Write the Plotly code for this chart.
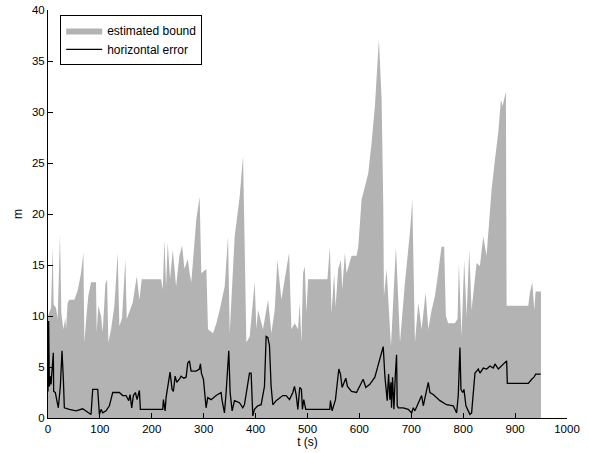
import plotly.graph_objects as go

# estimated bound (t in s, m)
bound_t = [0, 5.8, 9.0, 10.9, 15.4, 18.6, 23.1, 25.7, 29.6, 33.4, 34.7, 37.9, 41.1, 50.8, 57.2, 63.6,
           68.1, 70.1, 74.5, 77.8, 82.9, 92.5, 93.8, 97.0, 102.2, 105.4, 110.5, 113.8, 116.3, 121.5,
           127.9, 134.3, 137.5, 142.7, 149.1, 151.7, 163.2, 171.0, 176.1, 180.6, 217.9, 221.1, 224.3,
           227.5, 230.7, 235.2, 240.4, 246.8, 253.2, 258.4, 262.9, 269.3, 272.9, 276.1, 285.8, 292.2,
           295.4, 305.1, 308.3, 318.0, 324.4, 330.8, 340.4, 346.9, 350.1, 359.7, 369.3, 375.8, 379.0,
           382.2, 388.6, 398.3, 401.5, 404.7, 414.3, 424.0, 430.4, 436.8, 442.0, 449.7, 456.1, 464.5,
           469.0, 475.4, 481.8, 485.0, 488.3, 491.5, 494.7, 497.9, 501.1, 538.4, 543.1, 546.3, 551.4,
           554.1, 559.2, 564.4, 566.9, 572.1, 575.3, 584.9, 594.6, 597.8, 604.2, 610.6, 617.1, 623.5,
           629.9, 637.6, 642.8, 646.0, 647.3, 652.4, 655.6, 660.8, 665.3, 670.4, 674.9, 678.2, 687.8,
           697.4, 701.9, 707.1, 713.5, 719.9, 727.6, 732.8, 739.2, 745.4, 751.8, 758.2, 763.3, 766.6,
           771.1, 783.9, 789.1, 791.7, 796.8, 801.9, 806.5, 811.7, 816.1, 825.8, 832.2, 838.6, 845.0,
           854.7, 861.1, 867.5, 872.7, 875.9, 882.3, 883.6, 925.4, 928.6, 933.1, 937.0, 939.5, 949.8]
bound_m = [10.0, 10.8, 16.7, 11.1, 10.8, 9.7, 18.0, 10.3, 8.7, 9.8, 8.7, 11.3, 11.6, 11.6, 12.5, 14.2,
           16.2, 7.4, 10.3, 12.0, 13.3, 13.3, 8.4, 11.0, 10.0, 8.4, 13.1, 13.6, 7.4, 8.7,
           11.0, 16.2, 9.0, 9.8, 15.6, 9.7, 11.3, 13.9, 11.6, 13.6, 13.6, 12.6, 17.5,
           12.9, 17.2, 13.6, 16.5, 12.9, 15.9, 16.9, 14.6, 15.6, 14.2, 13.3, 19.5, 21.7,
           14.2, 14.6, 8.7, 8.3, 9.3, 10.6, 12.9, 17.8, 8.3, 17.8, 21.7, 25.7, 16.8,
           7.4, 8.0, 13.3, 8.7, 10.6, 8.7, 11.6, 8.3, 10.6, 15.5, 11.6, 13.6, 16.2,
           8.7, 9.3, 8.7, 11.3, 7.4, 14.2, 14.9, 10.3, 13.6, 13.6, 16.8, 10.3, 14.2,
           10.9, 14.6, 15.5, 12.6, 16.2, 14.2, 15.9, 15.9, 16.8, 21.4, 22.7, 24.0, 27.0,
           30.6, 37.1, 31.2, 20.8, 11.9, 14.6, 11.6, 7.0, 11.6, 16.8, 11.6, 7.4, 13.3,
           18.2, 21.4, 7.4, 11.3, 8.7, 12.3, 8.7, 10.6, 11.9, 14.2, 16.8, 16.8, 10.0,
           9.3, 9.3, 9.7, 15.2, 8.0, 15.5, 10.0, 16.5, 10.6, 15.2, 14.9, 17.8, 15.9,
           22.4, 25.3, 28.0, 31.2, 30.6, 32.0, 11.0, 11.0, 12.3, 13.3, 10.6, 12.4, 12.4]

# horizontal error
err_t = [0, 1.3, 2.6, 4.5, 5.8, 10.3, 10.9, 14.1, 16.7, 19.9, 23.8, 27.0, 29.6, 31.5, 41.1, 54.0,
         66.8, 73.3, 79.7, 82.9, 86.1, 95.8, 99.0, 102.2, 105.4, 111.8, 118.3, 124.7, 137.5, 144.0,
         150.4, 155.5, 158.1, 161.3, 164.5, 168.4, 171.6, 176.1, 178.0, 221.1, 222.4, 225.6, 227.5,
         230.7, 235.2, 239.1, 241.6, 244.9, 248.1, 253.2, 256.4, 261.6, 266.1, 269.3, 272.5, 275.7,
         285.3, 291.8, 293.7, 295.6, 299.5, 304.6, 307.8, 314.3, 323.9, 333.5, 335.5, 340.0, 343.2,
         348.3, 350.9, 354.8, 359.3, 368.9, 375.3, 378.5, 381.7, 385.0, 388.2, 391.4, 394.6, 397.8,
         404.2, 410.7, 417.1, 420.3, 423.5, 426.7, 429.9, 433.2, 439.6, 452.4, 458.9, 465.3, 471.7,
         474.9, 478.1, 481.4, 485.1, 488.3, 490.2, 492.8, 496.6, 543.0, 544.2, 547.4, 553.9, 560.3,
         563.5, 566.7, 570.6, 573.8, 577.0, 584.8, 594.4, 600.8, 607.2, 612.4, 620.1, 629.8, 636.2,
         642.6, 645.9, 649.1, 653.6, 656.2, 658.7, 660.7, 661.9, 663.9, 666.5, 669.1, 671.6, 672.9,
         674.9, 684.5, 694.2, 700.6, 703.8, 707.0, 713.4, 719.9, 723.1, 729.5, 732.7, 735.9, 742.3,
         755.2, 768.0, 780.9, 787.3, 790.5, 793.7, 795.7, 798.9, 801.4, 805.3, 809.8, 813.0, 816.2,
         822.7, 825.9, 829.1, 832.3, 838.7, 845.2, 851.6, 858.0, 861.2, 867.7, 877.3, 883.7, 885.0,
         925.5, 931.9, 936.4, 939.6, 949.3]
err_m = [2.6, 9.5, 3.1, 4.1, 3.3, 6.4, 2.6, 2.5, 1.8, 1.0, 3.1, 6.6, 3.8, 1.0, 0.85, 0.7,
         0.9, 0.7, 0.5, 0.35, 2.8, 2.8, 0.35, 0.85, 0.5, 0.7, 1.2, 2.5, 2.5, 2.2,
         2.2, 1.7, 2.3, 1.0, 2.2, 2.5, 1.8, 2.7, 0.85, 0.85, 1.8, 0.7, 2.0,
         3.1, 4.5, 2.8, 2.6, 4.1, 3.5, 3.8, 4.1, 3.9, 4.0, 5.4, 5.6, 4.6,
         4.6, 4.8, 5.3, 4.4, 3.8, 1.0, 2.0, 1.8, 2.2, 2.5, 1.7, 0.5, 2.5,
         6.6, 2.5, 0.7, 1.7, 1.5, 1.0, 1.3, 2.2, 3.1, 4.4, 4.4, 0.2, 0.85,
         1.2, 1.3, 3.1, 8.0, 7.9, 7.1, 3.1, 1.3, 1.7, 2.2, 2.2, 1.8, 2.5,
         3.1, 2.3, 0.85, 3.0, 2.8, 0.85, 1.8, 0.85, 0.85, 1.7, 0.7, 1.8, 4.8,
         4.3, 3.0, 3.5, 3.9, 3.1, 2.6, 2.5, 3.1, 3.8, 3.0, 3.3, 4.0, 5.1,
         6.4, 7.0, 4.1, 1.7, 4.3, 1.8, 3.5, 1.0, 4.0, 0.85, 4.1, 6.2, 1.2,
         1.0, 1.0, 0.85, 0.5, 1.0, 0.7, 1.5, 2.2, 1.2, 2.8, 3.5, 2.5, 2.3,
         1.7, 1.3, 1.2, 0.5, 2.2, 6.9, 2.8, 2.5, 2.8, 1.2, 0.7, 0.35, 0.5,
         4.4, 4.6, 4.8, 4.4, 4.9, 4.8, 5.1, 4.9, 5.3, 4.8, 5.3, 5.6, 3.4,
         3.4, 3.8, 4.0, 4.3, 4.3]

x_ticks = list(range(0, 1001, 100))
y_ticks = list(range(0, 41, 5))

FONT = "Liberation Sans, Arial, Helvetica, sans-serif"

fig = go.Figure()
fig.add_trace(go.Scatter(x=bound_t, y=bound_m, mode="lines", fill="tozeroy",
                         fillcolor="#b3b3b3", line=dict(width=0, color="#b3b3b3"),
                         name="estimated bound"))
fig.add_trace(go.Scatter(x=err_t, y=err_m, mode="lines",
                         line=dict(width=1.3, color="black"),
                         name="horizontal error"))

axis_common = dict(showgrid=False, zeroline=False, showline=True, linecolor="black",
                   linewidth=1, ticks="inside", ticklen=5, tickwidth=1, tickcolor="black",
                   tickfont=dict(family=FONT, size=11.5, color="black"), mirror=False)

fig.update_layout(
    width=589, height=453,
    margin=dict(l=48, r=22, t=10, b=35, autoexpand=False),
    paper_bgcolor="white", plot_bgcolor="white",
    font=dict(family=FONT, size=12, color="black"),
    showlegend=True,
    legend=dict(x=0.0235, y=0.988, xanchor="left", yanchor="top",
                bordercolor="black", borderwidth=1, bgcolor="white",
                font=dict(family=FONT, size=12), tracegroupgap=0,
                itemwidth=36),
    xaxis=dict(range=[0, 1000], tickvals=x_ticks, ticktext=[str(v) for v in x_ticks],
               title=dict(text="t (s)", standoff=2, font=dict(family=FONT, size=12)),
               **axis_common),
    yaxis=dict(range=[0, 40], tickvals=y_ticks, ticktext=[str(v) for v in y_ticks],
               title=dict(text="m", standoff=6, font=dict(family=FONT, size=12)),
               **axis_common),
)

fig.write_html("out.html")
